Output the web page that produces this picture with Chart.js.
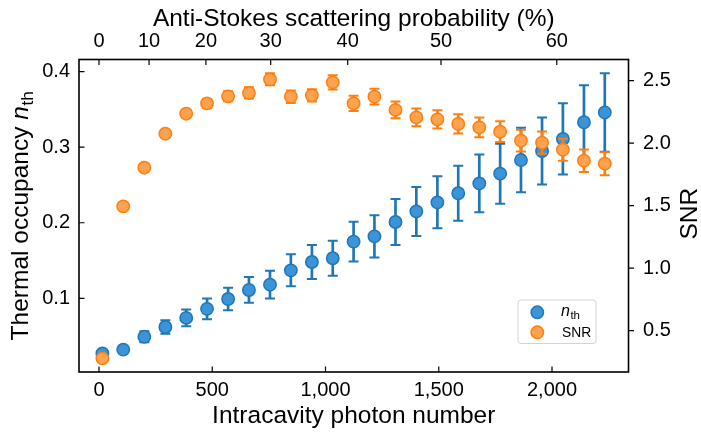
<!DOCTYPE html>
<html><head><meta charset="utf-8">
<script src="https://cdn.jsdelivr.net/npm/chart.js@4.4.1/dist/chart.umd.min.js"></script>
<style>html,body{margin:0;padding:0;background:#fff}#wrap{width:701px;height:434px;position:relative}</style>
</head><body><div id="wrap"><canvas id="c"></canvas></div>
<script>
// ---- data ----
const photonNumber = [15,107,200,293,385,477,570,662,755,847,940,1032,1124,1216,1309,1401,1494,1586,1679,1771,1863,1956,2048,2141,2233];
const nth    = [0.027,0.032,0.049,0.062,0.074,0.086,0.099,0.111,0.118,0.137,0.148,0.153,0.175,0.182,0.201,0.215,0.227,0.239,0.252,0.265,0.283,0.295,0.311,0.333,0.346];
const nthErr = [0.003,0.004,0.0073,0.009,0.011,0.0137,0.015,0.017,0.0183,0.0212,0.0225,0.0232,0.0263,0.028,0.0305,0.0324,0.0344,0.0364,0.0382,0.0397,0.0428,0.0444,0.0472,0.049,0.052];
const snr    = [0.279,1.495,1.804,2.076,2.236,2.319,2.375,2.402,2.511,2.372,2.383,2.487,2.318,2.372,2.266,2.207,2.191,2.154,2.127,2.092,2.020,2.004,1.948,1.860,1.836];
const snrErr = [0.01,0.015,0.02,0.025,0.03,0.035,0.04,0.045,0.048,0.05,0.049,0.057,0.061,0.063,0.067,0.071,0.073,0.077,0.079,0.083,0.087,0.089,0.088,0.09,0.092];
const bottomTicks = [0,500,1000,1500,2000];
const leftTicks = [0.1,0.2,0.3,0.4];
const rightTicks = [0.5,1.0,1.5,2.0,2.5];
const topTickLabels = [0,10,20,30,40,50,60];          // anti-Stokes probability (%)
const topTickPhoton = [0,221,472,758,1098,1510,2021]; // where those labels sit on the photon axis
const xTitle = 'Intracavity photon number';
const topTitle = 'Anti-Stokes scattering probability (%)';
const yTitleMain = 'Thermal occupancy ';
const rightTitle = 'SNR';

// ---- styles ----
const FONT = '"Liberation Sans", Arial, sans-serif';
const BLUE = '#1f77b4', BLUE_FILL = '#3b94d9';
const ORANGE = '#ff7f0e', ORANGE_FILL = '#ffa250';
const tickFont = {family: FONT, size: 20};
const noGrid = {display: false, drawTicks: false, tickLength: 0};

const errorBars = {
  id: 'errorBars',
  beforeDatasetDraw(chart, args) {
    const ds = chart.data.datasets[args.index];
    const meta = args.meta;
    const xs = chart.scales[meta.xAxisID], ys = chart.scales[meta.yAxisID];
    const ctx = chart.ctx;
    ctx.save();
    ctx.strokeStyle = ds.borderColor;
    ds.data.forEach((p, i) => {
      const e = ds.errors[i];
      const px = xs.getPixelForValue(p.x);
      const yTop = ys.getPixelForValue(p.y + e), yBot = ys.getPixelForValue(p.y - e);
      ctx.lineWidth = 2.7;
      ctx.beginPath(); ctx.moveTo(px, yBot); ctx.lineTo(px, yTop); ctx.stroke();
      ctx.lineWidth = 2;
      ctx.beginPath();
      ctx.moveTo(px - 5, yTop); ctx.lineTo(px + 5, yTop);
      ctx.moveTo(px - 5, yBot); ctx.lineTo(px + 5, yBot);
      ctx.stroke();
    });
    ctx.restore();
  }
};

function nthText(ctx, y, size, subScale) {
  // italic n with roman subscript "th"
  const fN = 'italic ' + size + 'px ' + FONT;
  const fS = (size * subScale) + 'px ' + FONT;
  ctx.font = fN; const wN = ctx.measureText('n').width + size * 0.03;
  ctx.font = fS; const wS = ctx.measureText('th').width;
  return {w: wN + wS, draw: (x0) => {
    ctx.font = fN; ctx.fillText('n', x0, y);
    ctx.font = fS; ctx.fillText('th', x0 + wN, y + size * 0.2);
  }};
}

const frame = {
  id: 'frame',
  afterDraw(chart) {
    const ctx = chart.ctx, a = chart.chartArea;
    const sx = chart.scales.x, sx2 = chart.scales.x2, sy = chart.scales.y, sy2 = chart.scales.y2;
    ctx.save();
    ctx.strokeStyle = '#000'; ctx.fillStyle = '#000';
    // ticks (inward on left/top/bottom, outward on right)
    ctx.lineWidth = 1.2;
    ctx.beginPath();
    const TL = 5.5;
    sx.ticks.forEach(t => { const p = sx.getPixelForValue(t.value); ctx.moveTo(p, a.bottom); ctx.lineTo(p, a.bottom - TL); });
    sx2.ticks.forEach(t => { const p = sx2.getPixelForValue(t.value); ctx.moveTo(p, a.top); ctx.lineTo(p, a.top + TL); });
    sy.ticks.forEach(t => { const p = sy.getPixelForValue(t.value); ctx.moveTo(a.left, p); ctx.lineTo(a.left + TL, p); });
    sy2.ticks.forEach(t => { const p = sy2.getPixelForValue(t.value); ctx.moveTo(a.right, p); ctx.lineTo(a.right + TL, p); });
    ctx.stroke();
    // spines
    ctx.lineWidth = 1.6;
    ctx.strokeRect(a.left, a.top, a.right - a.left, a.bottom - a.top);
    // titles
    const cx = (a.left + a.right) / 2, cy = (a.top + a.bottom) / 2;
    ctx.font = '24.5px ' + FONT;
    ctx.textAlign = 'center'; ctx.textBaseline = 'alphabetic';
    ctx.fillText(xTitle, cx, 423);
    ctx.fillText(topTitle, cx, 26);
    // right title
    ctx.save(); ctx.translate(697, cy - 2); ctx.rotate(-Math.PI / 2);
    ctx.fillText(rightTitle, 0, 0); ctx.restore();
    // left title
    ctx.save(); ctx.translate(28, cy); ctx.rotate(-Math.PI / 2);
    ctx.textAlign = 'left';
    ctx.font = '24.5px ' + FONT;
    const wMain = ctx.measureText(yTitleMain).width;
    const nt = nthText(ctx, 0, 24.5, 0.7);
    const total = wMain + nt.w;
    ctx.font = '24.5px ' + FONT;
    ctx.fillText(yTitleMain, -total / 2, 0);
    nt.draw(-total / 2 + wMain);
    ctx.restore();
    // legend
    const lx = 518, ly = 300, lw = 78, lh = 43.5;
    ctx.beginPath();
    ctx.roundRect(lx, ly, lw, lh, 3);
    ctx.fillStyle = 'rgba(255,255,255,0.85)'; ctx.fill();
    ctx.strokeStyle = '#d3d3d3'; ctx.lineWidth = 1; ctx.stroke();
    chart.data.datasets.forEach((ds, i) => {
      const my = ly + 12.3 + i * 20;
      ctx.beginPath(); ctx.arc(lx + 19.3, my, 6.2, 0, Math.PI * 2);
      ctx.fillStyle = ds.backgroundColor; ctx.fill();
      ctx.lineWidth = 1.5; ctx.strokeStyle = ds.borderColor; ctx.stroke();
      ctx.fillStyle = '#000'; ctx.textAlign = 'left'; ctx.textBaseline = 'alphabetic';
      if (ds.label === 'n_th') {
        nthText(ctx, my + 3.5, 16, 0.72).draw(lx + 43);
      } else {
        ctx.font = '13.8px ' + FONT;
        ctx.fillText(ds.label, lx + 44, my + 5);
      }
    });
    ctx.restore();
  }
};

const xMin = -88.3, xMax = 2337.7;
new Chart(document.getElementById('c'), {
  type: 'scatter',
  data: {
    datasets: [
      {label: 'n_th', data: photonNumber.map((x, i) => ({x, y: nth[i]})), errors: nthErr,
       xAxisID: 'x', yAxisID: 'y', order: 1,
       backgroundColor: BLUE_FILL, borderColor: BLUE, pointRadius: 6.2, pointHoverRadius: 6.2, pointBorderWidth: 1.5},
      {label: 'SNR', data: photonNumber.map((x, i) => ({x, y: snr[i]})), errors: snrErr,
       xAxisID: 'x', yAxisID: 'y2', order: 0,
       backgroundColor: ORANGE_FILL, borderColor: ORANGE, pointRadius: 6.2, pointHoverRadius: 6.2, pointBorderWidth: 1.5}
    ]
  },
  options: {
    responsive: true, maintainAspectRatio: false, animation: false, events: [],
    layout: {padding: 0},
    plugins: {legend: {display: false}, tooltip: {enabled: false}},
    scales: {
      x: {type: 'linear', position: 'bottom', min: xMin, max: xMax,
          grid: noGrid, border: {display: false},
          ticks: {font: tickFont, color: '#000', padding: 6.5, maxRotation: 0, autoSkip: false,
                  callback: v => Number(v).toLocaleString('en-US')},
          afterBuildTicks: s => { s.ticks = bottomTicks.map(v => ({value: v})); },
          afterFit: s => { s.height = 62; }},
      x2: {type: 'linear', position: 'top', min: xMin, max: xMax,
          grid: noGrid, border: {display: false},
          ticks: {font: tickFont, color: '#000', padding: 6.5, maxRotation: 0, autoSkip: false,
                  callback: (v, i) => String(topTickLabels[i])},
          afterBuildTicks: s => { s.ticks = topTickPhoton.map(v => ({value: v})); },
          afterFit: s => { s.height = 59.5; }},
      y: {type: 'linear', position: 'left', min: 0.0024, max: 0.4161,
          grid: noGrid, border: {display: false},
          ticks: {font: tickFont, color: '#000', padding: 9, autoSkip: false, callback: v => Number(v).toFixed(1)},
          afterBuildTicks: s => { s.ticks = leftTicks.map(v => ({value: v})); },
          afterFit: s => { s.width = 79; }},
      y2: {type: 'linear', position: 'right', min: 0.1696, max: 2.6696,
          grid: noGrid, border: {display: false},
          ticks: {font: tickFont, color: '#000', padding: 14.5, autoSkip: false, callback: v => Number(v).toFixed(1)},
          afterBuildTicks: s => { s.ticks = rightTicks.map(v => ({value: v})); },
          afterFit: s => { s.width = 72.5; }}
    }
  },
  plugins: [errorBars, frame]
});
</script>
</body></html>
